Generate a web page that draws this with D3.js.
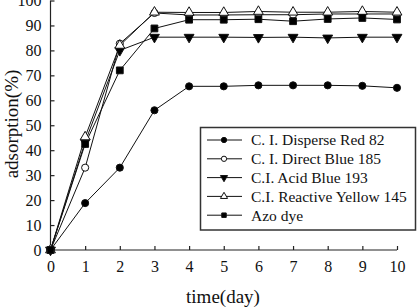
<!DOCTYPE html>
<html><head><meta charset="utf-8">
<script src="https://cdn.jsdelivr.net/npm/d3@7"></script>
<style>body{margin:0;background:#fff}svg{display:block}</style>
</head><body>
<svg id="c" width="417" height="308"></svg>
<script>
const days = [0,1,2,3,4,5,6,7,8,9,10];
const yTicks = [0,10,20,30,40,50,60,70,80,90,100];
const seriesNames = ["C. I. Disperse Red 82","C. I. Direct Blue 185","C.I. Acid Blue 193","C.I. Reactive Yellow 145","Azo dye"];
const disperseRed82 = [0,18.8,33,56,65.6,65.6,66,66,66,65.8,65];
const directBlue185 = [0,33,82.7,95,94.2,94.2,94.3,94.3,94.6,94.6,94.6];
const acidBlue193 = [0,43.3,80,85.3,85.3,85.3,85.2,85.3,85,85.3,85.3];
const reactiveYellow145 = [0,45.3,82,95.3,95.2,95.2,95.6,95.3,95.3,95.6,95.3];
const azoDye = [0,42.5,72,88.8,92.3,92.3,92.5,91.7,92.6,93,92.4];

const FONT = "'Liberation Serif', 'Times New Roman', Times, 'DejaVu Serif', serif";
const svg = d3.select("#c");
const x = d3.scaleLinear().domain([0,10]).range([50.5,397]);
const y = d3.scaleLinear().domain([0,100]).range([250,0.5]);

const series = [
  {name:seriesNames[0], values:disperseRed82, type:d3.symbolCircle, fill:"#000", rot:0, size:40, lsize:22},
  {name:seriesNames[1], values:directBlue185, type:d3.symbolCircle, fill:"#fff", rot:0, size:40, lsize:22},
  {name:seriesNames[2], values:acidBlue193, type:d3.symbolTriangle, fill:"#000", rot:180, size:42, lsize:22},
  {name:seriesNames[3], values:reactiveYellow145, type:d3.symbolTriangle, fill:"#fff", rot:0, size:42, lsize:22},
  {name:seriesNames[4], values:azoDye, type:d3.symbolSquare, fill:"#000", rot:0, size:46, lsize:20}
];

// axes
const xAxis = d3.axisBottom(x).tickValues(days).tickSize(-4).tickPadding(11).tickFormat(d3.format("d"));
const gx = svg.append("g").attr("transform","translate(0,250)").call(xAxis);
gx.select(".domain").attr("d",`M${x(0)},0H${x(10)}`);
const yAxis = d3.axisLeft(y).tickValues(yTicks).tickSize(-4).tickPadding(9).tickFormat(d3.format("d"));
const gy = svg.append("g").attr("transform",`translate(${x(0)},0)`).call(yAxis);
gy.select(".domain").attr("d",`M0,${y(0)}V${y(100)}`);
[gx,gy].forEach(g=>{
  g.attr("font-family",FONT).attr("font-size",16);
  g.selectAll("path,line").attr("stroke","#222").attr("stroke-width",1.2);
  g.selectAll("text").attr("font-family",FONT).attr("font-size",16).attr("fill","#111");
});

svg.append("text").attr("x",223).attr("y",303).attr("text-anchor","middle")
  .attr("font-family",FONT).attr("font-size",19).attr("fill","#111").text("time(day)");
svg.append("text").attr("transform","translate(18,124) rotate(-90)").attr("text-anchor","middle")
  .attr("font-family",FONT).attr("font-size",19).attr("fill","#111").text("adsorption(%)");

const line = d3.line().x((d,i)=>x(days[i])).y(d=>y(d));
series.forEach(s=>{
  svg.append("path").datum(s.values).attr("d",line).attr("fill","none").attr("stroke","#111").attr("stroke-width",1);
});
series.forEach(s=>{
  svg.append("g").selectAll("path").data(s.values).join("path")
    .attr("d",d3.symbol().type(s.type).size(s.size))
    .attr("transform",(d,i)=>`translate(${x(days[i])},${y(d)}) rotate(${s.rot})`)
    .attr("fill",s.fill).attr("stroke","#111").attr("stroke-width",1);
});

// legend
const lg = svg.append("g");
lg.append("rect").attr("x",200.5).attr("y",127.5).attr("width",215).attr("height",102.5)
  .attr("fill","#fff").attr("stroke","#333").attr("stroke-width",1.5);
series.forEach((s,i)=>{
  const yy = 140 + i*18.8;
  lg.append("line").attr("x1",207).attr("x2",242).attr("y1",yy).attr("y2",yy).attr("stroke","#111").attr("stroke-width",1);
  lg.append("path").attr("d",d3.symbol().type(s.type).size(s.lsize))
    .attr("transform",`translate(224,${yy}) rotate(${s.rot})`).attr("fill",s.fill).attr("stroke","#111").attr("stroke-width",1);
  lg.append("text").attr("x",251).attr("y",yy).attr("dy","0.35em")
    .attr("font-family",FONT).attr("font-size",15.5).attr("fill","#111").text(s.name);
});
</script>
</body></html>
